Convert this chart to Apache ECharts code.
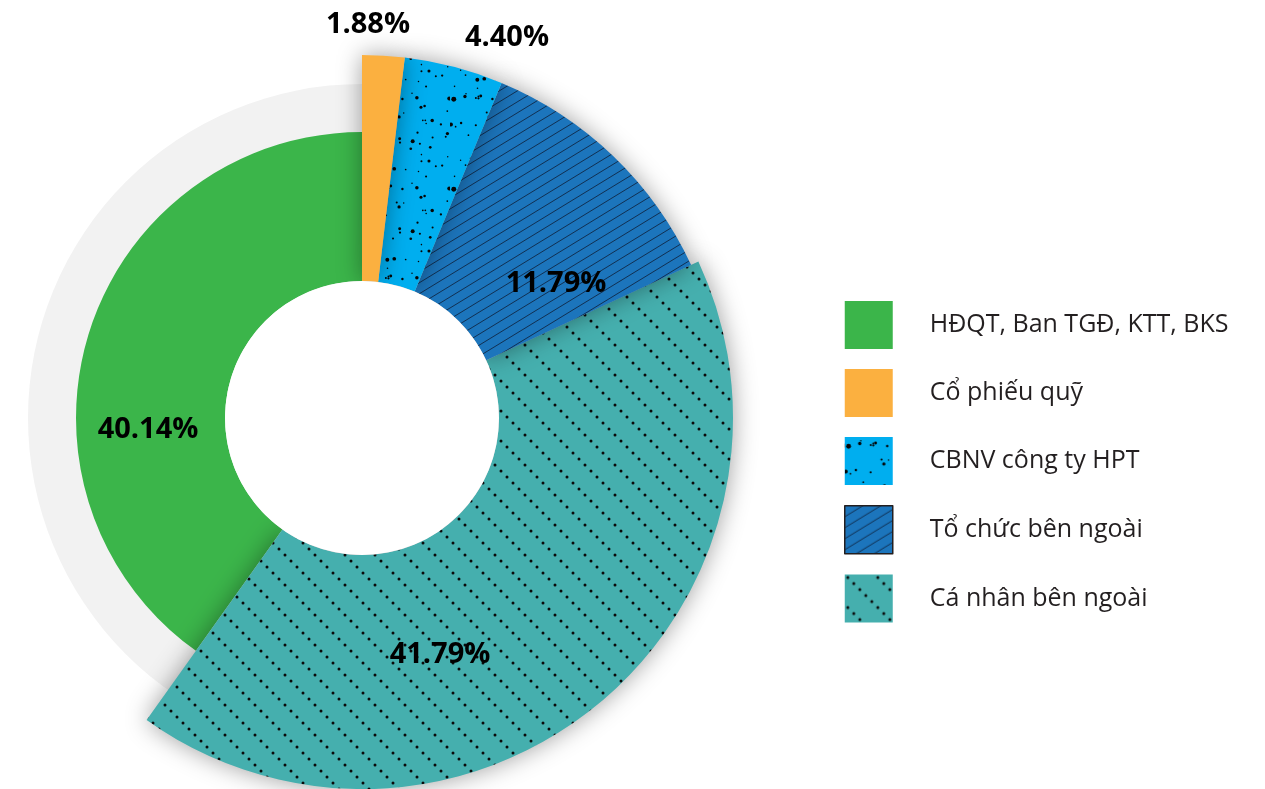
<!DOCTYPE html>
<html>
<head>
<meta charset="utf-8">
<script src="https://cdn.jsdelivr.net/npm/echarts@6/dist/echarts.min.js"></script>
<style>
  html, body { margin: 0; padding: 0; background: #fff; }
  #chart { width: 1265px; height: 789px; }
</style>
</head>
<body>
<div id="chart"></div>
<script>
// data, in legend order
var names = ['HĐQT, Ban TGĐ, KTT, BKS', 'Cổ phiếu quỹ', 'CBNV công ty HPT', 'Tổ chức bên ngoài', 'Cá nhân bên ngoài'];
var values = [40.14, 1.88, 4.40, 11.79, 41.79];
var colors = ['#3bb54a', '#fbb040', '#00aeef', '#1c75bc', '#45afae'];

// drawing order (counter-clockwise from the top) so each slice shades the previous one
var order = [0, 4, 3, 2, 1];
var center = [362, 418];
var labelPos = { 0: [148, 430], 1: [368, 25], 2: [507, 38], 3: [556, 284], 4: [440, 655] };

function tile(w, h, bg) {
  var c = document.createElement('canvas');
  c.width = w; c.height = h;
  var ctx = c.getContext('2d');
  ctx.fillStyle = bg;
  ctx.fillRect(0, 0, w, h);
  return { c: c, ctx: ctx };
}

// speckles for CBNV
function speckle() {
  var t = tile(90, 90, colors[2]), ctx = t.ctx;
  ctx.fillStyle = '#050505';
  var s = 11;
  function rnd() { s = (s * 9301 + 49297) % 233280; return s / 233280; }
  for (var i = 0; i < 55; i++) {
    var x = rnd() * 90, y = rnd() * 90, r = 0.7 + rnd() * rnd() * 2;
    ctx.beginPath(); ctx.arc(x, y, r, 0, Math.PI * 2); ctx.fill();
  }
  return t.c;
}

// thin "/" hatching for Tổ chức (about 31 degrees)
function hatch() {
  var w = 18, h = 11;
  var t = tile(w, h, colors[3]), ctx = t.ctx;
  ctx.strokeStyle = 'rgba(15,30,55,0.8)';
  ctx.lineWidth = 1;
  ctx.beginPath();
  for (var k = -1; k <= 1; k++) {
    ctx.moveTo(-w, 2 * h + k * h);
    ctx.lineTo(2 * w, -h + k * h);
  }
  ctx.stroke();
  return t.c;
}

// dotted "\" lines for Cá nhân
function dotted() {
  var t = tile(30, 30, colors[4]), ctx = t.ctx;
  ctx.fillStyle = '#0a0a0a';
  for (var k = 0; k < 5; k++) {
    ctx.beginPath(); ctx.arc(k * 6 + 3, k * 6 + 3, 1.5, 0, Math.PI * 2); ctx.fill();
  }
  return t.c;
}

var styles = [
  { color: colors[0] },
  { color: colors[1] },
  { color: { image: speckle(), repeat: 'repeat' } },
  { color: { image: hatch(), repeat: 'repeat' } },
  { color: { image: dotted(), repeat: 'repeat' } }
];

function sliceData(show) {
  return order.map(function (i) {
    var on = show.indexOf(i) >= 0;
    return {
      name: on ? names[i] : '',
      value: values[i],
      itemStyle: on ? styles[i] : { color: 'rgba(0,0,0,0)' },
      label: { show: on }
    };
  });
}

function slices(radius, show, shadow) {
  return {
    type: 'pie',
    center: center,
    radius: radius,
    startAngle: 90,
    clockwise: false,
    silent: true,
    itemStyle: shadow ? { shadowBlur: 24, shadowColor: 'rgba(0,0,0,0.38)' } : {},
    label: {
      position: 'inside',
      fontFamily: 'Open Sans',
      fontWeight: 'bold',
      fontSize: 29,
      color: '#000',
      formatter: function (p) { return p.value.toFixed(2) + '%'; }
    },
    labelLine: { show: false },
    labelLayout: function (p) {
      var xy = labelPos[order[p.dataIndex]];
      return { x: xy[0], y: xy[1], align: 'center', verticalAlign: 'middle' };
    },
    data: sliceData(show)
  };
}

var myChart = echarts.init(document.getElementById('chart'));
var option = {
  animation: false,
  legend: {
    orient: 'vertical',
    left: 844,
    top: 301,
    padding: 0,
    icon: 'rect',
    itemWidth: 48,
    itemHeight: 48,
    itemGap: 20,
    selectedMode: false,
    textStyle: { fontFamily: 'Open Sans', fontSize: 25, color: '#231f20', padding: [0, 0, 0, 32] },
    data: names.map(function (n, i) {
      return i === 3 ? { name: n, itemStyle: { borderColor: '#231f20', borderWidth: 1.5 } } : { name: n };
    })
  },
  series: [
    {
      type: 'pie', center: center, radius: [0, 334], silent: true,
      label: { show: false }, labelLine: { show: false },
      data: [{ value: 1, name: '', itemStyle: { color: '#f2f2f2' } }]
    },
    slices([137, 286], [0], false),
    slices([137, 371], [4], true),
    slices([137, 363], [3, 2, 1], true),
    {
      type: 'pie', center: center, radius: [0, 137], silent: true,
      label: { show: false }, labelLine: { show: false },
      data: [{ value: 1, name: '', itemStyle: { color: '#fff' } }]
    }
  ]
};
option && myChart.setOption(option);
</script>
</body>
</html>
